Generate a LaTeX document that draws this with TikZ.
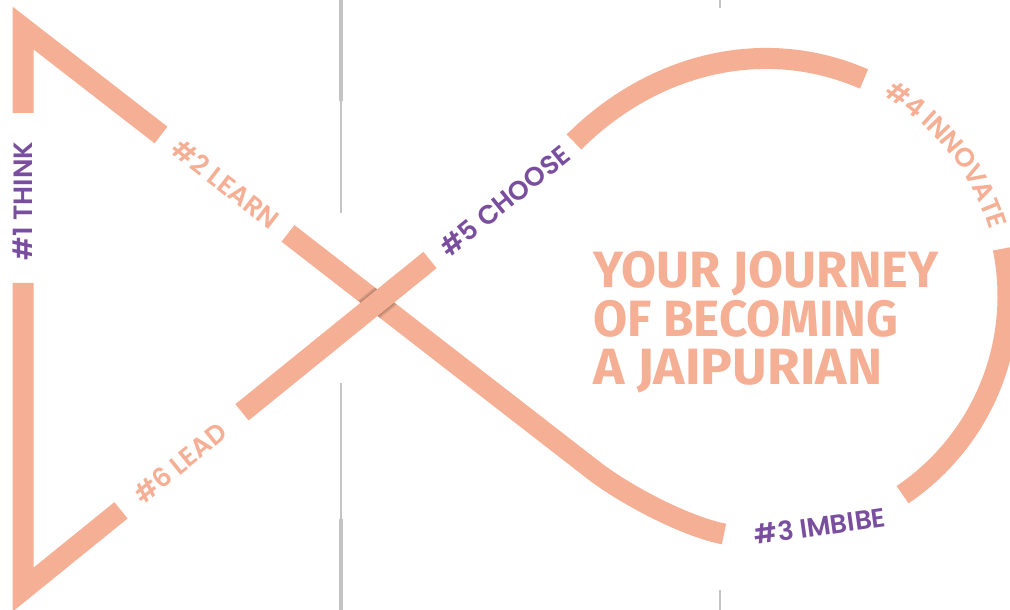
\documentclass[tikz,border=0pt]{standalone}
\usepackage{fontspec}
\usetikzlibrary{calc,decorations.text}
\newfontfamily\labfont{Poppins}[UprightFont={* SemiBold}]
\newfontfamily\titlefont{Fira Sans}
\definecolor{salmon}{HTML}{F5AF94}
\definecolor{jpurple}{HTML}{7A4E9E}
\definecolor{rulegrey}{HTML}{C4C4C4}
\begin{document}
\begin{tikzpicture}[x=1pt,y=1pt,
  band/.style={line width=21pt, draw=salmon, line cap=butt, line join=miter},
  lab/.style={font=\labfont\fontsize{26.5}{30}\selectfont, inner sep=0pt},
  labs/.style={lab, text=salmon},
  labp/.style={lab, text=jpurple},
  ttl/.style={font=\titlefont\bfseries\fontsize{51}{54}\selectfont, text=salmon, inner sep=0pt, anchor=base west},
  thickrule/.style={line width=4pt, draw=rulegrey, line cap=round},
  thinrule/.style={line width=1.7pt, draw=rulegrey},
]
\useasboundingbox (0,0) rectangle (1010,610);
% grey rules
\coordinate (g1) at (341,612); \coordinate (g2) at (341,510);
\coordinate (g3) at (341,397); \coordinate (g4) at (341,227);
\coordinate (g5) at (341,90);  \coordinate (g6) at (341,-2);
\draw[thickrule] (g1) -- (g2);
\draw[thinrule] (g2) -- (g3);
\draw[thinrule] (g4) -- (g5);
\draw[thickrule] (g5) -- (g6);
\coordinate (h1) at (720,610); \coordinate (h2) at (720,602);
\coordinate (h3) at (720,20);  \coordinate (h4) at (720,0);
\draw[thinrule, line width=2pt] (h1) -- (h2);
\draw[thinrule, line width=2pt] (h3) -- (h4);
% key points
\coordinate (a1) at (23,497);
\coordinate (apexT) at (23,582);
\coordinate (l1a) at (161,475);
\coordinate (l1b) at (288,376.6);
\coordinate (l1c) at (591,141.7);
\coordinate (c1) at (622.6,116.5);
\coordinate (c2) at (684.8,83.6);
\coordinate (botend) at (724,76);
\coordinate (a2) at (23,327);
\coordinate (apexB) at (23,20.3);
\coordinate (l2a) at (121,99.7);
\coordinate (l2b) at (242,197.7);
\coordinate (l2c) at (430,350);
\coordinate (t0) at (574,468);
\coordinate (t1) at (651.8,545.8);
\coordinate (t2) at (763.2,575);
\coordinate (t3) at (864,531);
\coordinate (ctr) at (768,314);
% bands
\draw[band] (a1) -- (apexT) -- (l1a);
\draw[band] (a2) -- (apexB) -- (l2a);
\draw[band] (l1b) -- (l1c) .. controls (c1) and (c2) .. (botend);
\draw[band] (t0) .. controls (t1) and (t2) .. (t3);
\draw[band] ($(ctr)+(-55.9:240)$) arc[start angle=-55.9, end angle=11.4, radius=240];
% shadow at the crossing
\begin{scope}
\clip ($(l1b)!10.5pt!90:(l1c)$) -- ($(l1c)!10.5pt!-90:(l1b)$) -- ($(l1c)!10.5pt!90:(l1b)$) -- ($(l1b)!10.5pt!-90:(l1c)$) -- cycle;
\foreach \w in {22,24,26,28} \draw[line width=\w pt, black, opacity=0.07] (l2b) -- (l2c);
\end{scope}
\draw[band] (l2b) -- (l2c);
% labels
\node[labp, rotate=90] (think) at (22.5,409) {\#1 THINK};
\node[labs, rotate=-37.8] (learn) at (226,426) {\#2 LEARN};
\node[labp, rotate=39] (choose) at (505,409) {\#5 CHOOSE};
\node[labs, rotate=39] (lead) at (180,147) {\#6 LEAD};
\node[labp, rotate=8] (imbibe) at (820,84) {\#3 IMBIBE};
\path[decorate, decoration={text along path, text align=center, raise=-9pt,
  text={|\labfont\fontsize{26.5}{30}\selectfont\color{salmon}|{\#}4 INNOVATE}}]
  ($(ctr)+(66.5:240)$) arc[start angle=66.5, end angle=10, radius=240];
% title
\node[ttl] (tl1) at (593,322) {\resizebox{345pt}{\height}{YOUR JOURNEY}};
\node[ttl] (tl2) at (593,273) {\resizebox{305pt}{\height}{OF BECOMING}};
\node[ttl] (tl3) at (593,225) {\resizebox{289pt}{\height}{A JAIPURIAN}};
\end{tikzpicture}
\end{document}
